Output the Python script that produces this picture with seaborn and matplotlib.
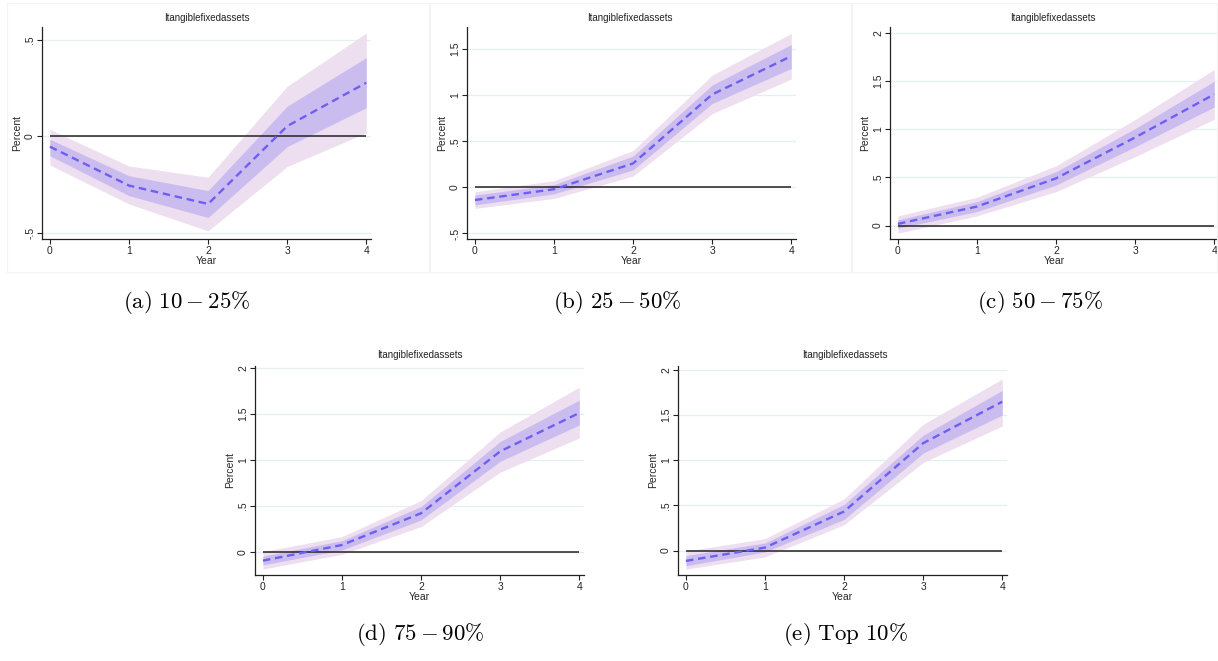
import matplotlib
matplotlib.use("Agg")
import matplotlib.pyplot as plt
from matplotlib.lines import Line2D
import numpy as np
import pandas as pd
import seaborn as sns

# ---- data: impulse responses of intangible fixed assets by size group ----
years = [0, 1, 2, 3, 4]

est_a = [-0.053, -0.254, -0.349, 0.053, 0.277]
in_lo_a = [-0.100, -0.306, -0.419, -0.053, 0.148]
in_hi_a = [-0.015, -0.203, -0.280, 0.156, 0.407]
out_lo_a = [-0.148, -0.349, -0.488, -0.156, 0.019]
out_hi_a = [0.036, -0.153, -0.211, 0.259, 0.534]

est_b = [-0.137, -0.020, 0.260, 1.008, 1.424]
in_lo_b = [-0.190, -0.070, 0.190, 0.910, 1.290]
in_hi_b = [-0.083, 0.030, 0.340, 1.110, 1.550]
out_lo_b = [-0.228, -0.120, 0.123, 0.800, 1.175]
out_hi_b = [-0.047, 0.072, 0.400, 1.218, 1.670]

est_c = [0.017, 0.197, 0.490, 0.914, 1.362]
in_lo_c = [-0.028, 0.145, 0.420, 0.817, 1.231]
in_hi_c = [0.059, 0.248, 0.559, 1.007, 1.497]
out_lo_c = [-0.079, 0.100, 0.352, 0.714, 1.103]
out_hi_c = [0.100, 0.293, 0.620, 1.100, 1.620]

est_d = [-0.094, 0.076, 0.421, 1.093, 1.510]
in_lo_d = [-0.140, 0.022, 0.348, 0.985, 1.380]
in_hi_d = [-0.044, 0.123, 0.494, 1.200, 1.650]
out_lo_d = [-0.185, -0.025, 0.276, 0.867, 1.238]
out_hi_d = [0.004, 0.167, 0.559, 1.303, 1.790]

est_e = [-0.114, 0.033, 0.432, 1.187, 1.645]
in_lo_e = [-0.168, -0.015, 0.344, 1.077, 1.498]
in_hi_e = [-0.055, 0.084, 0.510, 1.275, 1.770]
out_lo_e = [-0.205, -0.070, 0.286, 0.974, 1.377]
out_hi_e = [-0.007, 0.132, 0.571, 1.396, 1.897]

panel_title = "Itangiblefixedassets"
captions = [r"$\mathrm{(a)}\ 10-25\%$", r"$\mathrm{(b)}\ 25-50\%$",
            r"$\mathrm{(c)}\ 50-75\%$", r"$\mathrm{(d)}\ 75-90\%$",
            r"$\mathrm{(e)\ Top}\ 10\%$"]
yticks_a = [-0.5, 0, 0.5]
yticks_b = [-0.5, 0, 0.5, 1, 1.5]
yticks_c = [0, 0.5, 1, 1.5, 2]

# ---- style ----
sns.set_theme(style="white")
plt.rcParams["font.family"] = ["Liberation Sans", "DejaVu Sans"]
plt.rcParams["mathtext.fontset"] = "cm"

LINE_C = "#6e5ff2"
INNER_C = "#cbbcf0"
OUTER_C = "#eddff0"
GRID_C = "#e4efef"

W, H = 1218, 661
fig = plt.figure(figsize=(W / 100, H / 100), dpi=100)
fig.patch.set_facecolor("white")


def px_axes(left, top, right, bottom):
    return fig.add_axes([left / W, 1 - bottom / H, (right - left) / W, (bottom - top) / H])


def stata_label(v):
    if v == 0:
        return "0"
    s = ("%g" % v)
    return s.replace("0.", ".")


def draw_panel(box, est, in_lo, in_hi, out_lo, out_hi, ylim, yticks):
    ax = px_axes(*box)
    df = pd.DataFrame({"Year": years, "est": est, "in_lo": in_lo, "in_hi": in_hi,
                       "out_lo": out_lo, "out_hi": out_hi})
    for t in yticks:
        ax.axhline(t, color=GRID_C, lw=0.9, zorder=0)
    ax.fill_between(df["Year"], df["out_lo"], df["out_hi"], color=OUTER_C, lw=0, zorder=1)
    ax.fill_between(df["Year"], df["in_lo"], df["in_hi"], color=INNER_C, lw=0, zorder=2)
    ax.hlines(0, 0, 4, color="#222222", lw=1.1, zorder=3)
    sns.lineplot(data=df, x="Year", y="est", ax=ax, color=LINE_C, lw=1.7,
                 linestyle=(0, (3.2, 2.0)), zorder=4)
    ax.set_xlim(-0.1, 4.06)
    ax.set_ylim(*ylim)
    ax.set_xticks(years)
    ax.set_xticklabels([str(y) for y in years], fontsize=7.5)
    ax.set_yticks(yticks)
    ax.set_yticklabels([stata_label(t) for t in yticks], fontsize=7.5,
                       rotation=90, va="center")
    ax.tick_params(axis="both", which="major", length=3.5, width=0.8,
                   color="#222222", pad=1.5, left=True, bottom=True)
    for side in ("top", "right"):
        ax.spines[side].set_visible(False)
    for side in ("left", "bottom"):
        ax.spines[side].set_color("#222222")
        ax.spines[side].set_linewidth(0.9)
    ax.set_xlabel("Year", fontsize=7.5, labelpad=0)
    ax.set_ylabel("Percent", fontsize=7.5, labelpad=2)
    ax.set_facecolor("white")
    return ax


boxes = [
    (42, 27, 371, 239),
    (467, 27, 796, 239),
    (890, 27, 1219, 239),
    (255, 366, 584, 575),
    (678, 366, 1007, 575),
]
panels = [
    (est_a, in_lo_a, in_hi_a, out_lo_a, out_hi_a, (-0.53, 0.565), yticks_a),
    (est_b, in_lo_b, in_hi_b, out_lo_b, out_hi_b, (-0.56, 1.74), yticks_b),
    (est_c, in_lo_c, in_hi_c, out_lo_c, out_hi_c, (-0.14, 2.06), yticks_c),
    (est_d, in_lo_d, in_hi_d, out_lo_d, out_hi_d, (-0.25, 2.02), yticks_c),
    (est_e, in_lo_e, in_hi_e, out_lo_e, out_hi_e, (-0.27, 2.04), yticks_c),
]
title_pos = [(207, 18), (630, 18), (1053, 18), (420, 355), (845, 355)]
caption_pos = [(187, 302), (617, 302), (1040, 302), (420, 635), (845, 635)]

for box, p, tp, cp, cap in zip(boxes, panels, title_pos, caption_pos, captions):
    draw_panel(box, *p)
    fig.text(tp[0] / W, 1 - tp[1] / H, panel_title, fontsize=7,
             ha="center", va="center", color="#222222")
    fig.text(cp[0] / W, 1 - cp[1] / H, cap, fontsize=16.5, ha="center",
             va="center", color="black")

# faint frames around the top-row graph regions
for x0, x1 in [(7, 429), (430, 851), (852, 1217)]:
    for (xa, ya), (xb, yb) in [((x0, 3), (x1, 3)), ((x0, 272), (x1, 272)),
                                ((x0, 3), (x0, 272)), ((x1, 3), (x1, 272))]:
        fig.add_artist(Line2D([xa / W, xb / W], [1 - ya / H, 1 - yb / H],
                              color="#f3f3f3", lw=0.8))

fig.savefig("out.png", dpi=100, facecolor="white")
